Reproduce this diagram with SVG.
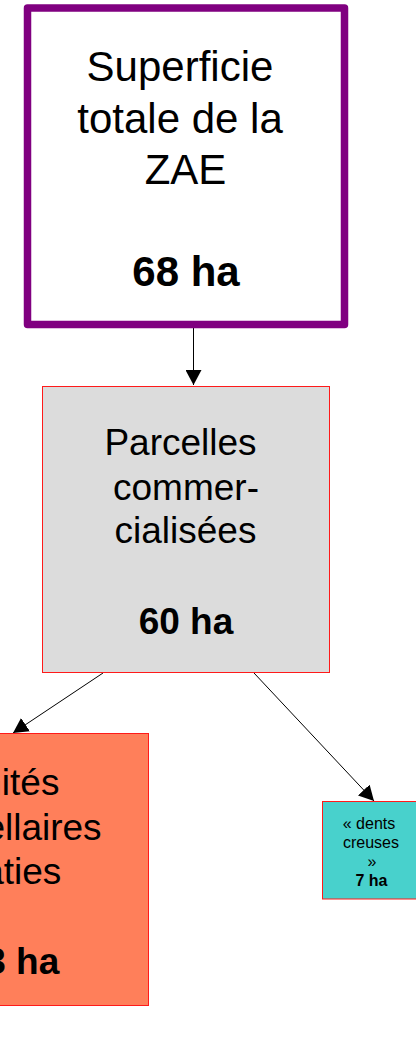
<svg xmlns="http://www.w3.org/2000/svg" width="416" height="1049" viewBox="0 0 416 1049">
  <style>
    .t { font-family: "Liberation Sans", Arial, sans-serif; fill: #000; text-anchor: middle; }
    .b { font-weight: bold; }
    .box { stroke: #ff1a1a; stroke-width: 1; }
    .edge { stroke: #000; stroke-width: 1; fill: none; marker-end: url(#ah); }
  </style>
  <defs>
    <marker id="ah" markerUnits="userSpaceOnUse" markerWidth="16" markerHeight="16" viewBox="0 0 16 16" refX="15" refY="8" orient="auto">
      <path d="M0,0 L15,8 L0,16 Z" fill="#000"/>
    </marker>
  </defs>

  <!-- connectors -->
  <g id="connectors">
    <line class="edge" x1="193.5" y1="328" x2="193.5" y2="385"/>
    <line class="edge" x1="103" y1="673" x2="13" y2="733"/>
    <line class="edge" x1="254" y1="673" x2="374" y2="801"/>
  </g>

  <!-- total area -->
  <g id="node-total">
    <rect x="27.5" y="8" width="317" height="316.5" fill="#fff" stroke="#800080" stroke-width="7.5" stroke-linejoin="round"/>
    <text class="t" font-size="42" x="180" y="81">Superficie</text>
    <text class="t" font-size="42" x="180" y="132.5">totale de la</text>
    <text class="t" font-size="42" x="185.5" y="184">ZAE</text>
    <text class="t b" font-size="42" x="186" y="286">68 ha</text>
  </g>

  <!-- sold plots -->
  <g id="node-parcelles">
    <rect class="box" x="42.5" y="386.5" width="287" height="286" fill="#dcdcdc"/>
    <text class="t" font-size="37" x="180.5" y="455">Parcelles</text>
    <text class="t" font-size="37" x="186" y="499.5">commer-</text>
    <text class="t" font-size="37" x="185.5" y="543">cialisées</text>
    <text class="t b" font-size="37" x="186" y="634">60 ha</text>
  </g>

  <!-- built plots -->
  <g id="node-baties">
    <rect class="box" x="-123.5" y="733.5" width="272" height="272" fill="#ff7f5a"/>
    <text class="t" font-size="37" x="7" y="794.5">Unités</text>
    <text class="t" font-size="37" x="7" y="839.5">parcellaires</text>
    <text class="t" font-size="37" x="12" y="884">bâties</text>
    <text class="t b" font-size="37" x="12" y="973.5">53 ha</text>
  </g>

  <!-- vacant gaps -->
  <g id="node-dents">
    <rect class="box" x="322.5" y="801.5" width="99" height="97.5" fill="#48d1cc"/>
    <text class="t" font-size="16" x="369" y="828.5">« dents</text>
    <text class="t" font-size="16" x="371" y="848">creuses</text>
    <text class="t" font-size="16" x="372" y="867">»</text>
    <text class="t b" font-size="16" x="371.5" y="886">7 ha</text>
  </g>
</svg>
